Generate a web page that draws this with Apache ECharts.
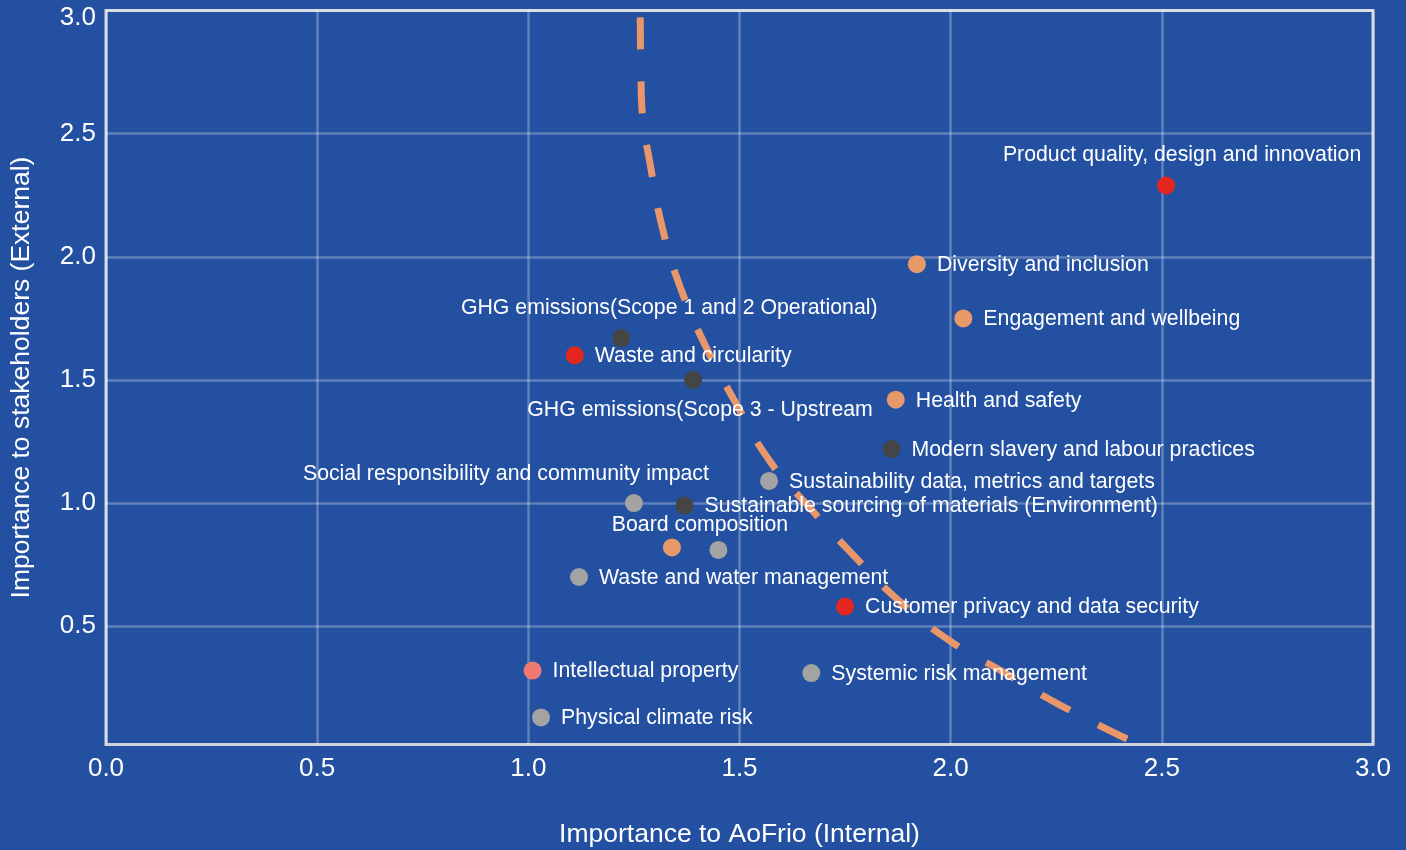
<!DOCTYPE html>
<html>
<head>
<meta charset="utf-8">
<script src="https://cdn.jsdelivr.net/npm/echarts@6/dist/echarts.min.js"></script>
<style>
html,body{margin:0;padding:0;background:#2350a0;}
#chart{width:1406px;height:850px;}
</style>
</head>
<body>
<div id="chart"></div>
<script>
// ---- data ----
const topics = [
  'Product quality, design and innovation',
  'Diversity and inclusion',
  'Engagement and wellbeing',
  'GHG emissions(Scope 1 and 2 Operational)',
  'Waste and circularity',
  'GHG emissions(Scope 3 - Upstream',
  'Health and safety',
  'Modern slavery and labour practices',
  'Sustainability data, metrics and targets',
  'Social responsibility and community impact',
  'Sustainable sourcing of materials (Environment)',
  'Board composition',
  '',
  'Waste and water management',
  'Customer privacy and data security',
  'Intellectual property',
  'Systemic risk management',
  'Physical climate risk'
];
const internalImportance = [2.51, 1.92, 2.03, 1.22, 1.11, 1.39, 1.87, 1.86, 1.57, 1.25, 1.37, 1.34, 1.45, 1.12, 1.75, 1.01, 1.67, 1.03];
const externalImportance = [2.29, 1.97, 1.75, 1.67, 1.60, 1.50, 1.42, 1.22, 1.09, 1.00, 0.99, 0.82, 0.81, 0.70, 0.58, 0.32, 0.31, 0.13];
const topicGroup = ['red','orange','orange','dark','red','dark','orange','dark','light','light','dark','orange','light','light','red','salmon','light','light'];

const thresholdX = [1.265, 1.267, 1.272, 1.288, 1.317, 1.359, 1.419, 1.490, 1.572, 1.667, 1.769, 1.880, 1.999, 2.129, 2.259, 2.445];
const thresholdY = [3.00, 2.70, 2.55, 2.38, 2.12, 1.88, 1.64, 1.41, 1.17, 0.98, 0.79, 0.60, 0.44, 0.31, 0.18, 0.02];

const tickValues = [0.5, 1.0, 1.5, 2.0, 2.5, 3.0];

// ---- styles ----
const groupColors = {red:'#e2281e', orange:'#e8996a', dark:'#454545', light:'#a3a3a3', salmon:'#f07a72'};
const labelPlacement = {
  'Product quality, design and innovation': {position:'top', offset:[16,0]},
  'GHG emissions(Scope 1 and 2 Operational)': {position:'top', offset:[48,1]},
  'GHG emissions(Scope 3 - Upstream': {position:'bottom', offset:[7,0]},
  'Social responsibility and community impact': {position:'top', offset:[-128,1]},
  'Board composition': {position:'top', offset:[28,8]}
};
const FONT = '"Liberation Sans", Arial, sans-serif';

const scatterData = topics.map((name, i) => {
  const pl = labelPlacement[name] || {position:'right', offset:[0,1]};
  return {
    name: name,
    value: [internalImportance[i], externalImportance[i]],
    itemStyle: {color: groupColors[topicGroup[i]], opacity: 1},
    label: {show: name !== '', position: pl.position, offset: pl.offset}
  };
});
const lineData = thresholdX.map((x, i) => [x, thresholdY[i]]);

const chart = echarts.init(document.getElementById('chart'));
chart.setOption({
  backgroundColor: '#2350a0',
  animation: false,
  grid: {left: 106, top: 10.5, right: 33, bottom: 105.5, containLabel: false, outerBoundsMode: 'none',
         show: true, borderColor: '#cfd3d9', borderWidth: 3, backgroundColor: 'transparent'},
  xAxis: {
    type: 'value', min: 0, max: 3, interval: 0.5,
    name: 'Importance to AoFrio (Internal)', nameLocation: 'middle', nameGap: 77,
    nameTextStyle: {color: '#ffffff', fontSize: 26.5, fontFamily: FONT},
    axisLine: {show: false}, axisTick: {show: false},
    axisLabel: {color: '#ffffff', fontSize: 26, fontFamily: FONT, margin: 11, formatter: v => v.toFixed(1)},
    splitLine: {show: true, lineStyle: {color: 'rgba(255,255,255,0.28)', width: 2.5}}
  },
  yAxis: {
    type: 'value', min: 0.02, max: 3,
    name: 'Importance to stakeholders (External)', nameLocation: 'middle', nameGap: 71,
    nameTextStyle: {color: '#ffffff', fontSize: 26.5, fontFamily: FONT},
    axisLine: {show: false},
    axisTick: {show: false, customValues: tickValues},
    axisLabel: {
      color: '#ffffff', fontSize: 26, fontFamily: FONT, margin: 10, customValues: tickValues,
      formatter: v => (Math.abs(v - 3) < 1e-9 ? '{m|' + v.toFixed(1) + '}' : v.toFixed(1)),
      rich: {m: {color: '#ffffff', fontSize: 26, fontFamily: FONT, padding: [14, 0, 0, 0]}}
    },
    splitLine: {show: true, lineStyle: {color: 'rgba(255,255,255,0.28)', width: 2.5}}
  },
  series: [
    {
      type: 'line', data: lineData, smooth: true, symbol: 'none', z: 2,
      lineStyle: {color: '#e8966a', width: 7, type: [32, 32], dashOffset: 57, cap: 'butt'}
    },
    {
      type: 'scatter', data: scatterData, symbolSize: 18, z: 3,
      itemStyle: {opacity: 1},
      label: {color: '#ffffff', fontSize: 21.3, fontFamily: FONT, distance: 11, formatter: p => p.name}
    }
  ]
});
</script>
</body>
</html>
